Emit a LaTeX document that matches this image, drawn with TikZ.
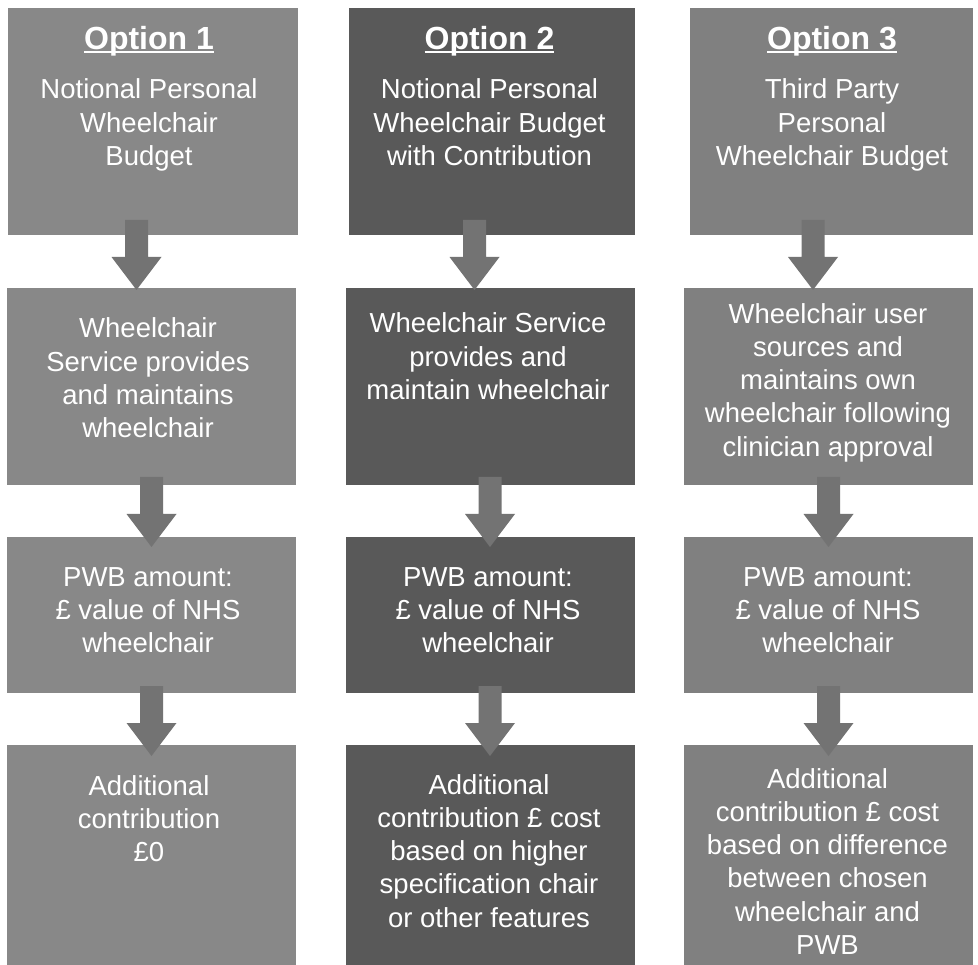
\documentclass[tikz,border=0pt]{standalone}
\usepackage{fontspec}
\setmainfont{Liberation Sans}
\usetikzlibrary{fit}
\definecolor{cA}{HTML}{888888}
\definecolor{cB}{HTML}{595959}
\definecolor{cC}{HTML}{808080}
\definecolor{cArr}{HTML}{737373}
\newcommand\optul[1]{\setbox0\hbox{#1}\rlap{\rule[-3.3pt]{\wd0}{2.2pt}}\box0}
\begin{document}
\begin{tikzpicture}[x=1pt,y=-1pt,
  box/.style={inner sep=0pt, outer sep=0pt, draw=none},
  txt/.style={text=white, align=center, inner sep=0pt, anchor=base, font=\fontsize{27.5pt}{33.3pt}\selectfont},
  ttl/.style={text=white, inner sep=0pt, anchor=base, font=\fontsize{32pt}{38pt}\selectfont\bfseries},
  blockarrow/.pic={\fill[cArr] (-11.5,0) -- (11.5,0) -- (11.5,37) -- (25,37) -- (0,70) -- (-25,37) -- (-11.5,37) -- cycle;}]
\useasboundingbox (0,0) rectangle (978,965);
% boxes
\node[box, fill=cA, fit={(8,8)(298,235)}] (b11) {};
\node[box, fill=cB, fit={(349,8)(635,235)}] (b21) {};
\node[box, fill=cC, fit={(690,8)(973,235)}] (b31) {};
\node[box, fill=cA, fit={(7,288)(296,485)}] (b12) {};
\node[box, fill=cB, fit={(346,288)(635,485)}] (b22) {};
\node[box, fill=cC, fit={(684,288)(973,485)}] (b32) {};
\node[box, fill=cA, fit={(7,537)(296,693)}] (b13) {};
\node[box, fill=cB, fit={(346,537)(635,693)}] (b23) {};
\node[box, fill=cC, fit={(684,537)(973,693)}] (b33) {};
\node[box, fill=cA, fit={(7,745)(296,965)}] (b14) {};
\node[box, fill=cB, fit={(346,745)(635,965)}] (b24) {};
\node[box, fill=cC, fit={(684,745)(973,965)}] (b34) {};
% arrows
\pic at (136.5,220) {blockarrow};
\pic at (474.5,220) {blockarrow};
\pic at (813,220) {blockarrow};
\pic at (151.5,477) {blockarrow};
\pic at (490,477) {blockarrow};
\pic at (828.5,477) {blockarrow};
\pic at (151.5,686) {blockarrow};
\pic at (490,686) {blockarrow};
\pic at (828.5,686) {blockarrow};
% titles
\node[ttl] (h1) at (149,50) {\optul{Option 1}};
\node[ttl] (h2) at (489.5,50) {\optul{Option 2}};
\node[ttl] (h3) at (832,50) {\optul{Option 3}};
% texts row 1 (anchored at last baseline)
\node[txt] (t11) at (149,165.6) {Notional Personal\\Wheelchair\\Budget};
\node[txt] (t21) at (489.5,165.6) {Notional Personal\\Wheelchair Budget\\with Contribution};
\node[txt] (t31) at (832,165.6) {Third Party\\Personal\\Wheelchair Budget};
% row 2
\node[txt] (t12) at (148,437.9) {Wheelchair\\Service provides\\and maintains\\wheelchair};
\node[txt] (t22) at (488,399.6) {Wheelchair Service\\provides and\\maintain wheelchair};
\node[txt] (t32) at (828,456.2) {Wheelchair user\\sources and\\maintains own\\wheelchair following\\clinician approval};
% row 3
\node[txt] (t13) at (148,652.6) {PWB amount:\\£ value of NHS\\wheelchair};
\node[txt] (t23) at (488,652.6) {PWB amount:\\£ value of NHS\\wheelchair};
\node[txt] (t33) at (828,652.6) {PWB amount:\\£ value of NHS\\wheelchair};
% row 4
\node[txt] (t14) at (149,861.6) {Additional\\contribution\\£0};
\node[txt] (t24) at (489,927.2) {Additional\\contribution £ cost\\based on higher\\specification chair\\or other features};
\node[txt] (t34) at (827.5,954.5) {Additional\\contribution £ cost\\based on difference\\between chosen\\wheelchair and\\PWB};
\end{tikzpicture}
\end{document}
